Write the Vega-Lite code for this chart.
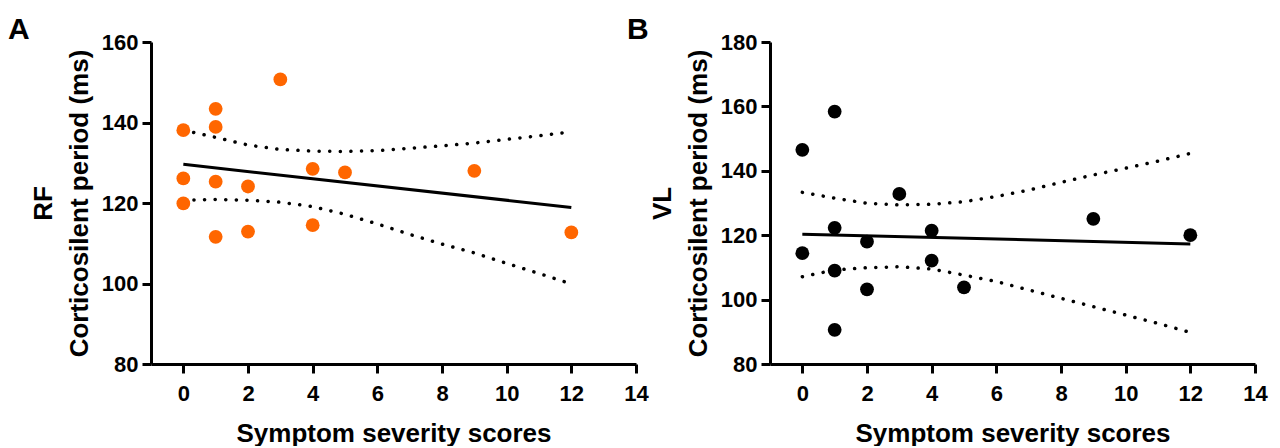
{
  "$schema": "https://vega.github.io/schema/vega-lite/v6.json",
  "padding": {"left": 8, "top": 15, "right": 5, "bottom": 0},
  "background": "white",
  "bounds": "flush",
  "spacing": 134,
  "config": {
    "view": {"stroke": null},
    "font": "Liberation Sans",
    "axis": {
      "domainColor": "black", "domainWidth": 3, "tickColor": "black", "tickWidth": 3, "tickSize": 9,
      "grid": false, "labelFont": "Liberation Sans", "labelFontSize": 22, "labelFontWeight": "bold",
      "labelColor": "black", "titleFont": "Liberation Sans", "titleFontSize": 26, "titleFontWeight": "bold",
      "titleColor": "black", "labelFlush": false, "labelOverlap": false
    },
    "axisX": {"labelPadding": 10, "titlePadding": 16},
    "axisY": {"labelPadding": 4, "titlePadding": 9, "titleLineHeight": 36},
    "title": {"fontSize": 30, "fontWeight": "bold", "font": "Liberation Sans", "anchor": "start", "frame": "group", "dx": -143, "color": "black", "offset": -14}
  },
  "datasets": {
    "A_pts": [
      {"score": 0, "period": 138.1}, {"score": 0, "period": 126.1}, {"score": 0, "period": 119.9},
      {"score": 1, "period": 143.4}, {"score": 1, "period": 138.9}, {"score": 1, "period": 125.3}, {"score": 1, "period": 111.6},
      {"score": 2, "period": 124.1}, {"score": 2, "period": 112.9}, {"score": 3, "period": 150.7},
      {"score": 4, "period": 128.5}, {"score": 4, "period": 114.5}, {"score": 5, "period": 127.6},
      {"score": 9, "period": 128.0}, {"score": 12, "period": 112.7}
    ],
    "A_fit": [{"score": 0, "period": 129.6}, {"score": 12, "period": 118.9}],
    "A_ci": [
      {"score": 0, "period": 138.1, "band": "upper"}, {"score": 1, "period": 136.3, "band": "upper"},
      {"score": 2, "period": 134.4, "band": "upper"}, {"score": 3, "period": 133.3, "band": "upper"},
      {"score": 4, "period": 132.9, "band": "upper"}, {"score": 5, "period": 132.8, "band": "upper"},
      {"score": 6, "period": 133.0, "band": "upper"}, {"score": 7, "period": 133.6, "band": "upper"},
      {"score": 8, "period": 134.2, "band": "upper"}, {"score": 9, "period": 134.9, "band": "upper"},
      {"score": 10, "period": 135.8, "band": "upper"}, {"score": 11, "period": 136.7, "band": "upper"},
      {"score": 12, "period": 137.7, "band": "upper"},
      {"score": 0, "period": 120.7, "band": "lower"}, {"score": 1, "period": 120.9, "band": "lower"},
      {"score": 2, "period": 120.7, "band": "lower"}, {"score": 3, "period": 120.2, "band": "lower"},
      {"score": 4, "period": 119.1, "band": "lower"}, {"score": 5, "period": 117.2, "band": "lower"},
      {"score": 6, "period": 114.8, "band": "lower"}, {"score": 7, "period": 112.2, "band": "lower"},
      {"score": 8, "period": 109.8, "band": "lower"}, {"score": 9, "period": 107.6, "band": "lower"},
      {"score": 10, "period": 105.0, "band": "lower"}, {"score": 11, "period": 102.5, "band": "lower"},
      {"score": 12, "period": 99.9, "band": "lower"}
    ],
    "B_pts": [
      {"score": 0, "period": 146.5}, {"score": 0, "period": 114.4},
      {"score": 1, "period": 158.4}, {"score": 1, "period": 122.3}, {"score": 1, "period": 109.0}, {"score": 1, "period": 90.6},
      {"score": 2, "period": 118.0}, {"score": 2, "period": 103.2}, {"score": 3, "period": 132.8},
      {"score": 4, "period": 121.4}, {"score": 4, "period": 112.1}, {"score": 5, "period": 103.8},
      {"score": 9, "period": 125.1}, {"score": 12, "period": 120.0}
    ],
    "B_fit": [{"score": 0, "period": 120.3}, {"score": 12, "period": 117.3}],
    "B_ci": [
      {"score": 0, "period": 133.3, "band": "upper"}, {"score": 1, "period": 131.5, "band": "upper"},
      {"score": 2, "period": 129.9, "band": "upper"}, {"score": 3, "period": 129.4, "band": "upper"},
      {"score": 4, "period": 129.6, "band": "upper"}, {"score": 5, "period": 130.4, "band": "upper"},
      {"score": 6, "period": 132.0, "band": "upper"}, {"score": 7, "period": 134.0, "band": "upper"},
      {"score": 8, "period": 136.4, "band": "upper"}, {"score": 9, "period": 138.7, "band": "upper"},
      {"score": 10, "period": 140.8, "band": "upper"}, {"score": 11, "period": 143.0, "band": "upper"},
      {"score": 12, "period": 145.4, "band": "upper"},
      {"score": 0, "period": 107.1, "band": "lower"}, {"score": 1, "period": 109.2, "band": "lower"},
      {"score": 2, "period": 109.9, "band": "lower"}, {"score": 3, "period": 110.2, "band": "lower"},
      {"score": 4, "period": 109.5, "band": "lower"}, {"score": 5, "period": 107.6, "band": "lower"},
      {"score": 6, "period": 105.6, "band": "lower"}, {"score": 7, "period": 103.0, "band": "lower"},
      {"score": 8, "period": 100.4, "band": "lower"}, {"score": 9, "period": 97.8, "band": "lower"},
      {"score": 10, "period": 95.2, "band": "lower"}, {"score": 11, "period": 92.6, "band": "lower"},
      {"score": 12, "period": 89.8, "band": "lower"}
    ]
  },
  "hconcat": [
    {
      "title": {"text": "A"},
      "width": 485,
      "height": 322,
      "layer": [
        {
          "data": {"name": "A_ci"},
          "mark": {"type": "line", "color": "black", "strokeWidth": 3.5, "strokeDash": [0.1, 10.5], "strokeCap": "round"},
          "encoding": {
            "x": {"field": "score", "type": "quantitative", "scale": {"domain": [-1, 14], "nice": false, "zero": false},
                  "axis": {"values": [0, 2, 4, 6, 8, 10, 12, 14], "title": "Symptom severity scores"}},
            "y": {"field": "period", "type": "quantitative", "scale": {"domain": [80, 160], "nice": false, "zero": false},
                  "axis": {"values": [80, 100, 120, 140, 160], "title": ["RF", "Corticosilent period (ms)"]}},
            "detail": {"field": "band"}
          }
        },
        {
          "data": {"name": "A_fit"},
          "mark": {"type": "line", "color": "black", "strokeWidth": 3},
          "encoding": {
            "x": {"field": "score", "type": "quantitative"},
            "y": {"field": "period", "type": "quantitative"}
          }
        },
        {
          "data": {"name": "A_pts"},
          "mark": {"type": "circle", "color": "#FF6600", "size": 190, "opacity": 1},
          "encoding": {
            "x": {"field": "score", "type": "quantitative"},
            "y": {"field": "period", "type": "quantitative"}
          }
        }
      ]
    },
    {
      "title": {"text": "B"},
      "width": 485,
      "height": 322,
      "layer": [
        {
          "data": {"name": "B_ci"},
          "mark": {"type": "line", "color": "black", "strokeWidth": 3.5, "strokeDash": [0.1, 10.5], "strokeCap": "round"},
          "encoding": {
            "x": {"field": "score", "type": "quantitative", "scale": {"domain": [-1, 14], "nice": false, "zero": false},
                  "axis": {"values": [0, 2, 4, 6, 8, 10, 12, 14], "title": "Symptom severity scores"}},
            "y": {"field": "period", "type": "quantitative", "scale": {"domain": [80, 180], "nice": false, "zero": false},
                  "axis": {"values": [80, 100, 120, 140, 160, 180], "title": ["VL", "Corticosilent period (ms)"]}},
            "detail": {"field": "band"}
          }
        },
        {
          "data": {"name": "B_fit"},
          "mark": {"type": "line", "color": "black", "strokeWidth": 3},
          "encoding": {
            "x": {"field": "score", "type": "quantitative"},
            "y": {"field": "period", "type": "quantitative"}
          }
        },
        {
          "data": {"name": "B_pts"},
          "mark": {"type": "circle", "color": "black", "size": 190, "opacity": 1},
          "encoding": {
            "x": {"field": "score", "type": "quantitative"},
            "y": {"field": "period", "type": "quantitative"}
          }
        }
      ]
    }
  ]
}
